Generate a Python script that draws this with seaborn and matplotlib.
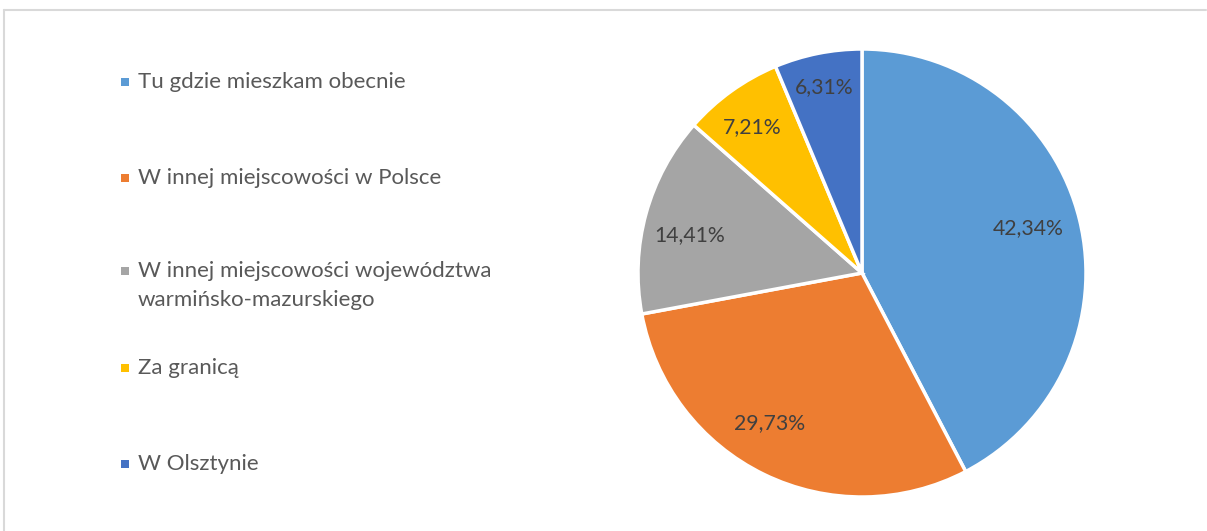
import matplotlib
matplotlib.use("Agg")
import matplotlib.pyplot as plt
from matplotlib.patches import Rectangle
from matplotlib.lines import Line2D
import numpy as np
import seaborn as sns

categories = [
    "Tu gdzie mieszkam obecnie",
    "W innej miejscowości w Polsce",
    "W innej miejscowości województwa\nwarmińsko-mazurskiego",
    "Za granicą",
    "W Olsztynie",
]
values = [42.34, 29.73, 14.41, 7.21, 6.31]
labels = ["42,34%", "29,73%", "14,41%", "7,21%", "6,31%"]
colors = ["#5B9BD5", "#ED7D31", "#A5A5A5", "#FFC000", "#4472C4"]

sns.set_theme(style="white")
plt.rcParams['font.family'] = ['Lato', 'DejaVu Sans']

W, H = 1207, 531
fig = plt.figure(figsize=(W / 100, H / 100), dpi=100)
fig.patch.set_facecolor("white")

# chart border
fig.add_artist(Line2D([4 / W, 1206 / W], [1 - 10 / H, 1 - 10 / H], color="#D9D9D9", lw=1.5, transform=fig.transFigure))
fig.add_artist(Line2D([4 / W, 4 / W], [1 - 10 / H, 0], color="#D9D9D9", lw=1.5, transform=fig.transFigure))

# pie
cx, cy, r = 862, 273, 224
ax = fig.add_axes([(cx - r) / W, (H - cy - r) / H, 2 * r / W, 2 * r / H])
palette = sns.color_palette(colors)
wedges, texts, autotexts = ax.pie(
    values, colors=palette, startangle=90, counterclock=False,
    labels=None, autopct=lambda p: "", pctdistance=0.82,
    wedgeprops=dict(edgecolor="white", linewidth=2.5),
)
# label placement (radius fraction, angular offset in degrees) as Excel does
dists = [0.77, 0.785, 0.79, 0.817, 0.847]
offsets = [1.4, -5.6, 2.9, 1.3, 0.0]
for at, lab, d, off, w in zip(autotexts, labels, dists, offsets, wedges):
    ang = np.deg2rad((w.theta1 + w.theta2) / 2 + off)
    at.set_position((d * np.cos(ang), d * np.sin(ang)))
    at.set_text(lab)
    at.set_color("#404040")
    at.set_fontsize(15.3)
    at.set_ha("center")
    at.set_va("center")
ax.set_aspect("equal")
ax.set_xlim(-1, 1)
ax.set_ylim(-1, 1)
ax.axis("off")

# legend (manual, Excel-like spacing)
ys = [82, 178, 271, 368, 464]
for cat, col, y in zip(categories, colors, ys):
    fig.add_artist(Rectangle((121 / W, (H - y - 4) / H), 8 / W, 8 / H, facecolor=col, edgecolor="none", transform=fig.transFigure))
    fig.text(138 / W, (H - y) / H, cat.split("\n")[0], fontsize=16, color="#595959", va="center", ha="left")
    if "\n" in cat:
        fig.text(138 / W, (H - y - 29) / H, cat.split("\n")[1], fontsize=16, color="#595959", va="center", ha="left")

fig.savefig("out.png", dpi=100)
